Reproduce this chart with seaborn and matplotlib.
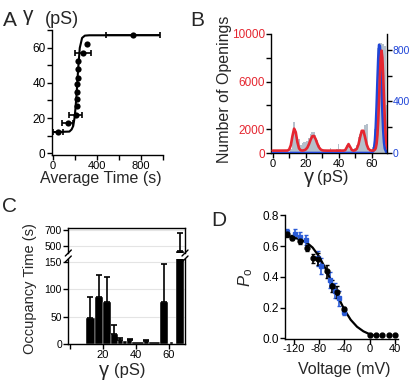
import numpy as np
import pandas as pd
import matplotlib
matplotlib.use("Agg")
import matplotlib.pyplot as plt
import seaborn as sns

# --------------------------
# Panel A: conductance vs average time
# --------------------------
a_time = [45, 134, 206, 218, 221, 222, 223, 224, 225, 226, 276, 306, 724]
a_gamma = [12, 17, 22, 27, 31, 35, 39.5, 43, 48, 52.5, 57, 62, 67]
a_time_err = [45, 50, 55, 0, 0, 0, 0, 0, 0, 0, 73, 0, 245]
a_fit_time = [0, 150, 170, 185, 199, 214, 229, 244, 265, 290, 330, 960]
a_fit_gamma = [12, 12.3, 13.5, 15.5, 21, 32.4, 47.5, 59.8, 65.5, 66.8, 67, 67]

# --------------------------
# Panel B: number of openings histogram (1 pS bins)
# --------------------------
b_bins = list(range(0, 70))
b_counts = [0, 0, 0, 0, 0, 0, 0, 0, 0, 0, 0,
            300, 1500, 2630, 1800, 1300, 1200, 700, 850, 950, 950,
            1000, 1250, 1570, 1790, 1750, 1510, 1100, 650, 350, 200,
            150, 170, 150, 250, 400, 200, 120, 120, 300, 730,
            350, 150, 150, 250, 670, 550, 300, 200, 300, 400,
            700, 1370, 1600, 1790, 1900, 2350, 2440, 150, 250, 200,
            500, 2000, 5500, 8800, 9210, 9210, 9200, 9000, 4000]
b_red_x = [0, 5, 9, 10, 11, 12, 13, 14, 15, 16, 17, 18, 19, 20, 21, 22, 23, 24, 25,
           26, 27, 28, 29, 30, 31, 33, 40, 43, 44, 45, 46, 47, 48, 49, 50, 51, 52,
           53, 54, 55, 56, 57, 58, 59, 60, 61, 62, 62.5, 63, 63.5, 64, 64.5, 65,
           65.5, 66, 66.5, 67, 67.5, 68, 68.5, 69, 69.5, 70]
b_red_y = [200, 200, 205, 290, 647, 1421, 2048, 1747, 917, 384, 226, 205, 225, 289,
           449, 741, 1115, 1405, 1435, 1186, 813, 497, 312, 233, 208, 200, 200, 202,
           247, 497, 750, 497, 247, 202, 234, 360, 717, 1327, 1866, 1866, 1327, 717,
           360, 234, 205, 205, 279, 424, 786, 1520, 2772, 4516, 6449, 8000, 8600,
           8000, 6449, 4516, 2772, 1520, 786, 424, 279]
b_blue_x = [0, 59, 60, 61, 61.5, 62, 62.5, 63, 63.5, 64, 64.5, 65, 65.5, 66, 66.5,
            67, 67.5, 68, 69, 70]
b_blue_y = [0, 0, 1, 15, 41, 98, 203, 361, 555, 735, 840, 828, 703, 516, 326, 178,
            83, 34, 4, 0]

# --------------------------
# Panel C: occupancy time per conductance level
# --------------------------
c_left = [10, 15, 20, 25, 29, 32, 35, 38, 45, 48, 54.5, 59.5, 61, 64.5]
c_width = [5, 5, 5, 4, 3, 3, 3, 7, 3, 6.5, 5, 1.5, 2, 5]
c_height = [48, 85, 77, 19, 7, 5, 7, 3, 6, 4, 77, 0.5, 3, 435]
c_err = [38, 41, 46, 16, 4, 0, 2, 0, 2, 0, 69, 0, 0, 230]

# --------------------------
# Panel D: open probability vs voltage
# --------------------------
d_black_v = [-131, -122, -110, -99, -89, -81, -68, -59, -52, -40, 0, 10, 20, 30, 40]
d_black_po = [0.68, 0.655, 0.635, 0.585, 0.52, 0.515, 0.435, 0.34, 0.30, 0.19,
              0.02, 0.02, 0.02, 0.02, 0.02]
d_black_err = [0.02, 0.015, 0.02, 0.02, 0.03, 0.04, 0.04, 0.04, 0.04, 0.015,
               0.008, 0.008, 0.008, 0.008, 0.008]
d_blue_v = [-130, -118, -110, -100, -82, -77, -62, -55, -48, -40]
d_blue_po = [0.69, 0.68, 0.66, 0.64, 0.52, 0.47, 0.38, 0.31, 0.26, 0.17]
d_blue_err = [0.02, 0.03, 0.03, 0.035, 0.05, 0.05, 0.05, 0.05, 0.05, 0.02]
d_fit_v = [-130, -120, -110, -100, -90, -80, -70, -60, -50, -40, -30, -20, -10, 0, 5]
d_fit_po = [0.665, 0.657, 0.643, 0.625, 0.59, 0.533, 0.456, 0.364, 0.27, 0.186,
            0.12, 0.0745, 0.045, 0.026, 0.02]

RED = "#e52630"
BLUE = "#1f45d8"
GRAY = "#b5c0cb"
DBLUE = "#2a5bd7"

sns.set_theme(style="ticks")
plt.rcParams["font.family"] = ["Liberation Sans", "DejaVu Sans"]
plt.rcParams.update({
    "axes.linewidth": 1.0, "axes.edgecolor": "black",
    "xtick.major.width": 1.0, "ytick.major.width": 1.0,
    "xtick.major.size": 3.5, "ytick.major.size": 3.5,
    "xtick.major.pad": 0.5, "ytick.major.pad": 1.0,
    "xtick.labelsize": 8, "ytick.labelsize": 8.5,
    "xtick.color": "black", "ytick.color": "black",
    "axes.unicode_minus": False,
    "mathtext.fontset": "custom",
    "mathtext.rm": "Liberation Sans",
    "mathtext.it": "Liberation Sans:italic",
})

W, H = 412, 382
fig = plt.figure(figsize=(W / 100, H / 100), dpi=100)


def box(left, top, right, bottom):
    return [left / W, 1 - bottom / H, (right - left) / W, (bottom - top) / H]


def label(x, y, s, **kw):
    fig.text(x / W, 1 - y / H, s, **kw)


# ---- A ----
axA = fig.add_axes(box(51.7, 30, 163.3, 155))
sns.lineplot(x=a_fit_time, y=a_fit_gamma, ax=axA, color="black", lw=1.5,
             estimator=None, sort=False)
t = np.array(a_time); g = np.array(a_gamma); te = np.array(a_time_err)
has = te > 0
axA.errorbar(t[has], g[has], xerr=te[has], fmt="none", ecolor="black",
             elinewidth=1.2, capsize=2, capthick=1.2)
sns.scatterplot(x=a_time, y=a_gamma, ax=axA, color="black", s=20, linewidth=0, zorder=5)
axA.set_xlim(-10, 1000)
axA.set_ylim(-1, 70)
axA.set_xticks(range(0, 1001, 200))
axA.set_xticklabels(["0", "", "400", "", "800", ""])
axA.set_yticks(range(0, 71, 10))
axA.set_yticklabels(["0", "", "20", "", "40", "", "60", ""])
sns.despine(ax=axA)
label(101, 178, "Average Time (s)", fontsize=11.5, ha="center", va="center")
label(23, 21, "γ", fontsize=15, ha="left", va="baseline")
label(45, 24, "(pS)", fontsize=13, ha="left", va="baseline")

# ---- B ----
hist_df = pd.DataFrame({"gamma": b_bins, "openings": b_counts})
axB = fig.add_axes(box(271, 34, 387, 153))
sns.histplot(data=hist_df, x="gamma", weights="openings", discrete=True, shrink=1,
             ax=axB, color=GRAY, edgecolor="none", alpha=1)
axB.set_xlim(-1, 69.3)
axB.set_ylim(0, 10000)
axB.set_xticks(range(0, 61, 10))
axB.set_xticklabels(["0", "", "20", "", "40", "", "60"])
axB.set_yticks(range(0, 10001, 2000))
axB.set_yticklabels(["0", "2000", "", "6000", "", "10000"])
axB.tick_params(axis="y", labelcolor=RED)
axB.set_xlabel("")
axB.set_ylabel("")
for s in ("top", "right"):
    axB.spines[s].set_visible(False)

axB2 = axB.twinx()
sns.lineplot(x=b_blue_x, y=b_blue_y, ax=axB2, color=BLUE, lw=1.9,
             estimator=None, sort=False)
axB2.set_ylim(0, 924)
axB2.set_yticks(range(0, 801, 200))
axB2.set_yticklabels(["0", "", "400", "", "800"])
axB2.tick_params(axis="y", labelcolor=BLUE, labelsize=7.5, pad=0.5, length=3.5)
axB2.set_ylabel("")
for s in ("top", "left", "bottom"):
    axB2.spines[s].set_visible(False)

axB3 = axB.twinx()
sns.lineplot(x=b_red_x, y=b_red_y, ax=axB3, color=RED, lw=1.9,
             estimator=None, sort=False)
axB3.set_ylim(0, 10000)
axB3.set_yticks([])
axB3.set_ylabel("")
for s in axB3.spines.values():
    s.set_visible(False)

label(224, 89, "Number of Openings", fontsize=11.5, rotation=90, ha="center", va="center")
label(304, 183, "γ", fontsize=14.5, ha="left", va="baseline")
label(317, 182.5, "(pS)", fontsize=12, ha="left", va="baseline")

# ---- C (broken axis) ----
ce = np.array(c_left) + np.array(c_width) / 2
ch = np.array(c_height)
cerr = np.array(c_err)
hasc = cerr > 0
axCt = fig.add_axes(box(68.3, 228, 185, 253))
axC = fig.add_axes(box(68.3, 259, 185, 344))
for ax in (axCt, axC):
    ax.yaxis.grid(True, color="#e4e4e4", lw=0.8)
    ax.set_axisbelow(True)
    ax.bar(c_left, c_height, width=c_width, align="edge", color="black",
           edgecolor="white", linewidth=0.3)
    ax.errorbar(ce[hasc], ch[hasc], yerr=[np.zeros(hasc.sum()), cerr[hasc]],
                fmt="none", ecolor="black", elinewidth=1.2, capsize=2, capthick=1.2)
    ax.set_xlim(-1, 70)
    ax.tick_params(axis="y", labelsize=7.5)

axCt.set_ylim(412, 725)
axCt.set_yticks([500, 700])
axCt.spines["bottom"].set_visible(False)
axCt.tick_params(axis="x", bottom=False, labelbottom=False)

axC.set_ylim(0, 155)
axC.set_yticks([0, 50, 100, 150])
axC.set_xticks([0, 20, 40, 60])
axC.set_xticklabels(["", "20", "40", "60"])
axC.spines["top"].set_visible(False)


def breaks(ax, y0, hpx, wpx):
    dx = 3 / wpx
    dy = 3 / hpx
    for x0 in (0, 1):
        ax.plot([x0 - dx, x0 + dx], [y0 - dy, y0 + dy], transform=ax.transAxes,
                color="black", lw=1.0, clip_on=False)


breaks(axCt, 0, 25, 116.7)
breaks(axC, 1, 85, 116.7)

label(30, 289, "Occupancy Time (s)", fontsize=10.5, rotation=90, ha="center", va="center")
label(99, 376, "γ", fontsize=14.5, ha="left", va="baseline")
label(114, 375, "(pS)", fontsize=12, ha="left", va="baseline")

# ---- D ----
axD = fig.add_axes(box(285.3, 215.3, 397.7, 338.7))
axD.errorbar(d_blue_v, d_blue_po, yerr=d_blue_err, fmt="s", color=DBLUE, ms=3,
             elinewidth=1.2, capsize=1.5, capthick=1.0)
sns.lineplot(x=d_fit_v, y=d_fit_po, ax=axD, color="black", lw=1.6,
             estimator=None, sort=False)
axD.errorbar(d_black_v, d_black_po, yerr=d_black_err, fmt="o", color="black", ms=3.5,
             elinewidth=1.2, capsize=1.5, capthick=1.0)
axD.set_xlim(-133, 44)
axD.set_ylim(-0.003, 0.8)
axD.set_xticks([-120, -80, -40, 0, 40])
axD.set_xticklabels(["-120", "-80", "-40", "0", "40"])
axD.set_yticks([0.0, 0.2, 0.4, 0.6, 0.8])
axD.set_yticklabels(["0.0", "0.2", "0.4", "0.6", "0.8"])
sns.despine(ax=axD)
label(246, 277, r"$\mathit{P}_\mathrm{o}$", fontsize=12, rotation=90, ha="center", va="center")
label(344, 369.5, "Voltage (mV)", fontsize=11.5, ha="center", va="center")

# ---- panel letters ----
label(3, 20.5, "A", fontsize=15, ha="left", va="center")
label(190, 20.5, "B", fontsize=15, ha="left", va="center")
label(2, 206.5, "C", fontsize=15, ha="left", va="center")
label(211, 220.5, "D", fontsize=15, ha="left", va="center")

fig.savefig("out.png", dpi=100)
